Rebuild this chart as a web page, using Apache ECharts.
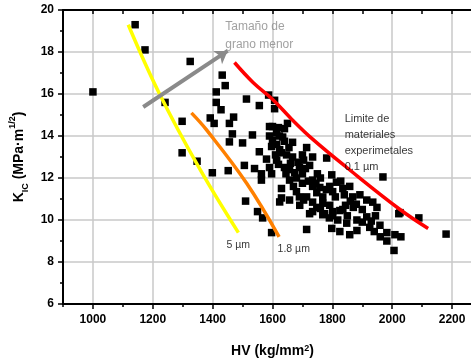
<!DOCTYPE html>
<html>
<head>
<meta charset="utf-8">
<script src="https://cdn.jsdelivr.net/npm/echarts@6/dist/echarts.min.js"></script>
<style>html,body{margin:0;padding:0;background:#fff}#c{width:471px;height:364px}</style>
</head>
<body>
<div id="c"></div>
<script>
// ---- data ----
const hv = [1000,1141,1174,1325,1241,1298,1298,1348,1432,1442,1412,1412,1428,1513,1556,1587,1607,1607,1392,1405,1470,1456,1466,1533,1500,1456,1399,1452,1556,1590,1590,1623,1506,1540,1563,1563,1510,1550,1567,1597,1714,1969,2022,2089,2180,2029,1982,2006,1630,1630,1624,
1634,1667,1630,1667,1700,1734,1781,1798,1640,1690,1724,1680,1700,1734,1758,1801,1835,1858,1868,1892,1915,1935,1949,1714,1734,1768,1791,1734,1768,1801,1835,1818,1848,1882,1915,1798,1825,1858,1882,1925,1959,1982,2009,2026,
1600,1614,1597,1624,1647,1704,1614,1590,1657,1674,1710,1657,1670,1680,1690,1704,1734,1748,1768,1791,1814,1828,1748,1774,1801,1825,1844,1657,1691,1724,1714,1650,1580,1944,1900,1960,1870,1750,
1600,1614,1640,1655,1620,1645,1660,1685,1610,1597,1700,1720,1745,1760,1780,1810,1840,1860,1880,1760,1790,1850,1900,1930,1940,1620,1640];
const kic = [16.1,19.3,18.1,17.55,15.6,14.7,13.2,12.8,16.9,16.4,16.1,15.6,15.25,15.76,15.45,15.95,15.7,15.3,14.86,14.6,14.9,14.6,14.1,14.05,13.67,13.72,12.25,12.35,13.25,14.45,14.0,14.0,12.6,12.45,12.2,11.9,10.9,10.4,10.1,9.4,9.55,12.05,10.3,10.1,9.33,9.2,9.0,8.55,11.5,11.05,10.86,
13.95,13.7,13.2,13.0,13.1,13.0,12.95,12.15,12.5,12.5,12.6,12.0,11.75,11.9,11.55,11.35,11.5,11.6,11.1,11.2,10.95,10.85,10.6,11.1,10.85,10.8,10.7,10.4,10.25,10.4,10.5,10.0,9.85,10.0,10.15,9.6,9.45,9.3,9.5,9.65,9.75,9.4,9.3,10.35,
14.45,14.15,13.5,13.35,13.1,12.85,12.85,12.5,12.4,12.25,12.45,11.9,11.6,11.35,11.1,10.95,11.6,11.3,11.1,11.6,11.8,11.85,10.6,10.3,10.2,10.45,10.7,10.95,10.7,10.3,13.45,14.6,12.9,10.2,10.5,9.2,10.6,12.2,
13.8,13.6,13.75,13.45,12.65,12.2,12.7,12.75,13.1,12.2,12.2,11.85,11.75,12.0,11.45,11.1,11.2,10.9,10.75,10.55,10.1,10.2,9.9,9.95,9.45,14.4,14.35];

const line5umX  = [1118,1221,1355,1486];
const line5umY  = [19.3,16.05,12.48,9.4];
const line18umX = [1329,1379,1513,1622];
const line18umY = [15.1,14.3,11.76,9.2];
const line01umX = [1473,1535,1600,1664,1734,1848,2026,2120];
const line01umY = [17.5,16.55,15.75,14.8,13.85,12.5,10.5,9.6];
const arrowX = [1168,1450];
const arrowY = [15.38,18.05];

const xTicks = [1000,1200,1400,1600,1800,2000,2200];
const yTicks = [6,8,10,12,14,16,18,20];

const notes = [
  {text:'Tamaño de\ngrano menor', x:1442, y:18.76, kind:'gray'},
  {text:'Limite de\nmateriales\nexperimetales\n0.1 µm', x:1841, y:13.67, kind:'black'},
  {text:'5 µm', x:1446, y:8.8, kind:'small'},
  {text:'1.8 µm', x:1617, y:8.62, kind:'small'}
];

// ---- chart ----
const zip = (a,b) => a.map((v,i)=>[v,b[i]]);
const chart = echarts.init(document.getElementById('c'), null, {renderer:'canvas'});
const FONT = 'Liberation Sans, Arial, sans-serif';
const tickLbl = {color:'#000', fontWeight:'bold', fontSize:12, fontFamily:FONT};

const lineSeries = (xs, ys, color) => ({
  type:'line', data: zip(xs,ys), smooth:0.4, showSymbol:false, symbol:'none',
  lineStyle:{color, width:3.5}, z:4, silent:true
});

chart.setOption({
  animation:false,
  grid:{left:63, top:10, width:419, height:294, containLabel:false, outerBoundsMode:'none'},
  xAxis:[
    {type:'value', min:900, max:2300, splitNumber:7, position:'bottom',
     name:'HV (kg/mm{p|2})', nameLocation:'middle', nameGap:40,
     nameTextStyle:{color:'#000', fontWeight:'bold', fontSize:14, fontFamily:FONT,
       rich:{p:{fontSize:9, fontWeight:'bold', fontFamily:FONT, verticalAlign:'top', lineHeight:10, color:'#000'}}},
     axisLine:{show:true, onZero:false, lineStyle:{color:'#000', width:2}},
     axisTick:{show:true, inside:false, length:5, lineStyle:{color:'#000', width:1.5}},
     axisLabel:{...tickLbl, margin:10, showMinLabel:false, showMaxLabel:false,
       formatter:v => xTicks.includes(v) ? String(v) : ''},
     splitLine:{show:true, showMinLine:false, showMaxLine:false, lineStyle:{color:'#c8c8c8', width:1.5}}},
    {type:'value', min:900, max:2300, interval:100, position:'bottom',
     axisLine:{show:false}, axisLabel:{show:false}, splitLine:{show:false},
     axisTick:{show:true, inside:false, length:3, lineStyle:{color:'#000', width:1.5}}},
    {type:'value', min:900, max:2300, interval:100, position:'top',
     axisLine:{show:true, onZero:false, lineStyle:{color:'#000', width:2}},
     axisLabel:{show:false}, splitLine:{show:false},
     axisTick:{show:true, inside:true, length:4, lineStyle:{color:'#000', width:1.5}}}
  ],
  yAxis:[
    {type:'value', min:6, max:20, interval:2, position:'left',
     name:'{b|K}{s|IC}{b| (MPa·m}{p|1/2}{b|)}', nameLocation:'middle', nameGap:32, nameRotate:90,
     nameTextStyle:{rich:{
       b:{fontSize:14, fontWeight:'bold', fontFamily:FONT, color:'#000', lineHeight:22, verticalAlign:'middle'},
       s:{fontSize:9, fontWeight:'bold', fontFamily:FONT, color:'#000', lineHeight:10, verticalAlign:'bottom'},
       p:{fontSize:9, fontWeight:'bold', fontFamily:FONT, color:'#000', lineHeight:10, verticalAlign:'top'}}},
     axisLine:{show:true, onZero:false, lineStyle:{color:'#000', width:2}},
     axisTick:{show:true, inside:false, length:5, lineStyle:{color:'#000', width:1.5}},
     minorTick:{show:true, splitNumber:2, length:3, lineStyle:{color:'#000', width:1.5}},
     axisLabel:{...tickLbl, margin:9, formatter:v => yTicks.includes(v) ? String(v) : ''},
     splitLine:{show:true, showMinLine:false, showMaxLine:false, lineStyle:{color:'#c8c8c8', width:1.5}}}
  ],
  series:[
    {type:'scatter', data: zip(hv,kic), symbol:'rect', symbolSize:7.5,
     itemStyle:{color:'#000', opacity:1}, z:3, silent:true},
    {type:'scatter', data:[], silent:true, z:3,
     markLine:{silent:true, symbol:['none','arrow'], symbolSize:12,
       lineStyle:{color:'#8a8a8a', width:4, type:'solid', opacity:1}, label:{show:false},
       emphasis:{disabled:true},
       data:[[{coord:[arrowX[0],arrowY[0]]},{coord:[arrowX[1],arrowY[1]]}]]}},
    lineSeries(line5umX, line5umY, '#ffff00'),
    lineSeries(line18umX, line18umY, '#ff8000'),
    lineSeries(line01umX, line01umY, '#ff0000'),
    {type:'scatter', symbolSize:0, silent:true, z:6,
     data: notes.map(n => ({value:[n.x,n.y],
       label:{show:true, position:'right', distance:0, formatter:n.text, align:'left',
         fontFamily:FONT,
         fontSize: n.kind==='gray'?12:(n.kind==='black'?11:10.5),
         lineHeight: n.kind==='gray'?18:16,
         color: n.kind==='gray'?'#8a8a8a':'#000'}}))}
  ]
});
</script>
</body>
</html>
